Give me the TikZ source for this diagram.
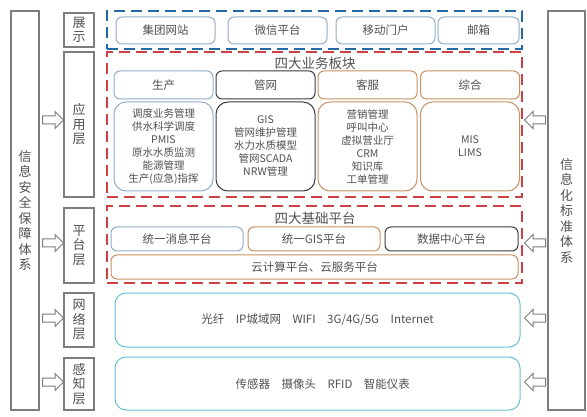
\documentclass[tikz,border=0pt]{standalone}
\usepackage{fontspec}
\setmainfont{Noto Sans CJK SC}
\usepackage{tikz}
\usetikzlibrary{positioning,arrows.meta,shapes.arrows}
\usepackage{xcolor}
\definecolor{txt}{RGB}{80,80,80}
\definecolor{graybd}{RGB}{125,125,125}
\definecolor{dblue}{RGB}{35,105,165}
\definecolor{dred}{RGB}{205,65,70}
\definecolor{lblue}{RGB}{145,172,200}
\definecolor{darkbd}{RGB}{60,60,60}
\definecolor{orgbd}{RGB}{200,145,100}
\definecolor{cyanbd}{RGB}{105,190,215}

\begin{document}
\begin{tikzpicture}[x=1pt,y=-1pt,
  side/.style={draw=graybd,line width=1.2pt,inner sep=0pt,text=txt,align=center,font=\fontsize{13}{15.5}\selectfont},
  lay/.style={draw=graybd,line width=1.2pt,inner sep=0pt,text=txt,align=center,minimum width=30pt,font=\fontsize{13}{14.5}\selectfont},
  frame/.style={line width=2pt,dash pattern=on 11pt off 6pt,minimum width=415pt,inner sep=0pt},
  title/.style={text=txt,inner sep=0pt,font=\fontsize{13.5}{15}\selectfont},
  box/.style={line width=1pt,rounded corners=6pt,inner sep=0pt,text=txt,align=center,font=\fontsize{11.5}{13}\selectfont},
  list/.style={box,rounded corners=12pt,minimum width=99pt,minimum height=89pt,font=\fontsize{10.5}{13}\selectfont},
  harrow/.style={single arrow,draw=graybd,fill=white,line width=1pt,minimum height=21pt,inner sep=3.5pt,single arrow head extend=4.5pt,single arrow head indent=0pt}]
\useasboundingbox (0,0) rectangle (587,417);

% side systems
\node[side,minimum width=28pt,minimum height=399pt] (sec) at (25,210.5) {信\\息\\安\\全\\保\\障\\体\\系};
\node[side,minimum width=37pt,minimum height=399pt] (std) at (566.5,210.5) {信\\息\\化\\标\\准\\体\\系};

% layer labels
\node[lay,minimum height=34pt] (show) at (79,30) {展\\示};
\node[lay,minimum height=145pt] (app) at (79,124.5) {应\\用\\层};
\node[lay,minimum height=75pt] (plat) at (79,245.5) {平\\台\\层};
\node[lay,minimum height=54pt] (net) at (79,320) {网\\络\\层};
\node[lay,minimum height=52pt] (sense) at (79,384) {感\\知\\层};

\foreach \y/\n in {120/app,243/plat,318/net,382/sense} {
  \node[harrow] (la-\n) at (51,\y) {};
  \node[harrow,shape border rotate=180] (ra-\n) at (537,\y) {};
}

% frames
\node[frame,draw=dblue,minimum height=38pt] (fshow) at (314.5,30) {};
\node[frame,draw=dred,minimum height=145pt] (fapp) at (314.5,124.5) {};
\node[frame,draw=dred,minimum height=77pt] (fplat) at (314.5,244.5) {};

% display
\node[box,draw=lblue,minimum width=99pt,minimum height=27pt] (web) at (165.5,30.5) {集团网站};
\node[box,draw=lblue,minimum width=99pt,minimum height=27pt] (wechat) at (277.5,30.5) {微信平台};
\node[box,draw=lblue,minimum width=99pt,minimum height=27pt] (mobile) at (385.5,30.5) {移动门户};
\node[box,draw=lblue,minimum width=81pt,minimum height=27pt] (mail) at (478.5,30.5) {邮箱};

% application
\node[title] (tapp) at (315,63) {四大业务板块};
\node[box,draw=lblue,minimum width=99pt,minimum height=28pt] (prod) at (163.5,85) {生产};
\node[box,draw=darkbd,minimum width=99pt,minimum height=28pt] (pipe) at (265.5,85) {管网};
\node[box,draw=orgbd,minimum width=99pt,minimum height=28pt] (serv) at (367.5,85) {客服};
\node[box,draw=orgbd,minimum width=99pt,minimum height=28pt] (comp) at (470,85) {综合};
\node[list,draw=lblue] (lprod) at (163.5,146.5) {调度业务管理\\供水科学调度\\PMIS\\原水水质监测\\能源管理\\生产(应急)指挥};
\node[list,draw=darkbd] (lpipe) at (265.5,146.5) {GIS\\管网维护管理\\水力水质模型\\管网SCADA\\NRW管理};
\node[list,draw=orgbd] (lserv) at (367.5,146.5) {营销管理\\呼叫中心\\虚拟营业厅\\CRM\\知识库\\工单管理};
\node[list,draw=orgbd] (lcomp) at (470,146.5) {MIS\\LIMS};

% platform
\node[title] (tplat) at (315,218) {四大基础平台};
\node[box,draw=lblue,minimum width=132pt,minimum height=24pt] (msg) at (177,239) {统一消息平台};
\node[box,draw=orgbd,minimum width=132pt,minimum height=24pt] (gis) at (314,239) {统一GIS平台};
\node[box,draw=darkbd,minimum width=133pt,minimum height=24pt] (data) at (451.5,239) {数据中心平台};
\node[box,draw=orgbd,minimum width=407pt,minimum height=24pt] (cloud) at (314.5,267) {云计算平台、云服务平台};

% network and sensing
\node[box,draw=cyanbd,rounded corners=11pt,minimum width=405pt,minimum height=54pt] (lnet) at (317.5,320) {光纤\quad IP城域网\quad WIFI\quad 3G/4G/5G\quad Internet};
\node[box,draw=cyanbd,rounded corners=11pt,minimum width=405pt,minimum height=53pt] (lsense) at (317.5,383.5) {};
\node[text=txt,anchor=west,font=\fontsize{11.5}{13}\selectfont] (tsense) at (232,384) {传感器\quad 摄像头\quad RFID\quad 智能仪表};
\end{tikzpicture}
\end{document}
